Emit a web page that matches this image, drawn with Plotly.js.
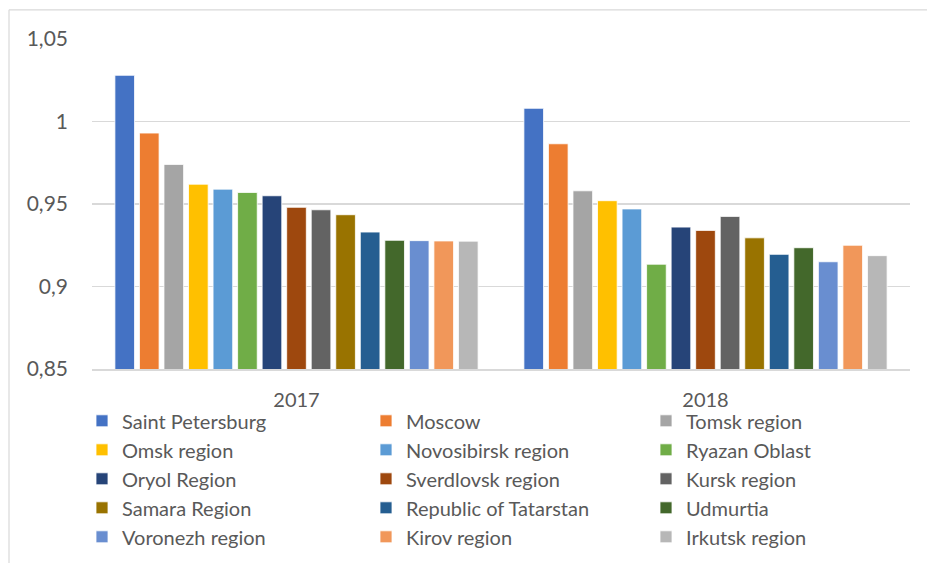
<!DOCTYPE html>
<html>
<head>
<meta charset="utf-8">
<script src="https://cdn.plot.ly/plotly-3.0.1.min.js"></script>
<style>html,body{margin:0;padding:0;background:#fff;}#chart{width:927px;height:563px;}</style>
</head>
<body>
<div id="chart"></div>
<script>
const years = ['2017', '2018'];
const regions = ['Saint Petersburg', 'Moscow', 'Tomsk region', 'Omsk region', 'Novosibirsk region', 'Ryazan Oblast',
  'Oryol Region', 'Sverdlovsk region', 'Kursk region', 'Samara Region', 'Republic of Tatarstan', 'Udmurtia',
  'Voronezh region', 'Kirov region', 'Irkutsk region'];
const values2017 = [1.028, 0.993, 0.974, 0.962, 0.959, 0.957, 0.955, 0.948, 0.9465, 0.9435, 0.933, 0.928, 0.9278, 0.9276, 0.9275];
const values2018 = [1.008, 0.9865, 0.958, 0.952, 0.947, 0.9135, 0.936, 0.934, 0.9425, 0.9295, 0.9195, 0.9235, 0.915, 0.925, 0.9187];
const colors = ['#4472C4', '#ED7D31', '#A5A5A5', '#FFC000', '#5B9BD5', '#70AD47', '#264478', '#9E480E', '#636363',
  '#997300', '#255E91', '#43682B', '#698ED0', '#F1975A', '#B7B7B7'];

const FONT = 'Lato, "Open Sans", sans-serif';
const legendIds = ['legend', 'legend2', 'legend3', 'legend4', 'legend5'];
const colWidths = [239, 235, 170];

const traces = regions.map((name, i) => ({
  type: 'bar',
  name: name,
  x: years,
  y: [values2017[i], values2018[i]],
  marker: { color: colors[i], line: { color: '#ffffff', width: 0.8 } },
  legend: legendIds[Math.floor(i / 3)],
  legendwidth: colWidths[i % 3],
  hoverinfo: 'name+y'
}));

const W = 927, H = 563;
const L = 92, R = W - 910, T = 38.7, B = H - 368.7;
const PW = W - L - R;
const PH = H - T - B;

function legendCfg(row) {
  const yPix = 421.5 + row * 29; // row centre in pixels
  return {
    orientation: 'h',
    x: (82 - L) / PW,
    xanchor: 'left',
    y: -(yPix - 20.5 - (T + PH)) / PH,
    yanchor: 'top',
    entrywidthmode: 'pixels',
    traceorder: 'normal',
    font: { family: FONT, size: 20, color: '#595959' },
    bgcolor: 'rgba(0,0,0,0)',
    itemwidth: 30
  };
}

const layout = {
  width: W, height: H,
  margin: { l: L, r: R, t: T, b: B, pad: 0, autoexpand: false },
  paper_bgcolor: '#ffffff', plot_bgcolor: '#ffffff',
  separators: ', ',
  barmode: 'group',
  bargap: 0.1,
  bargroupgap: 0.2,
  font: { family: FONT, color: '#595959' },
  xaxis: {
    type: 'category',
    showgrid: false,
    showline: true, linecolor: '#d9d9d9', linewidth: 1.5,
    ticks: '',
    tickfont: { family: FONT, size: 20, color: '#595959' },
    ticklabelstandoff: 12,
    fixedrange: true
  },
  yaxis: {
    range: [0.85, 1.05],
    dtick: 0.05, tick0: 0.85,
    showgrid: true, gridcolor: '#d9d9d9', gridwidth: 1.5,
    zeroline: false, showline: false,
    ticks: '',
    tickfont: { family: FONT, size: 21, color: '#595959' },
    ticklabelstandoff: 23,
    fixedrange: true
  },
  showlegend: true,
  shapes: [
    { type: 'line', xref: 'paper', yref: 'paper', x0: (9 - L) / PW, x1: (9 - L) / PW,
      y0: (T + PH - 9.5) / PH, y1: -(H - T - PH) / PH - 0.1,
      line: { color: '#d9d9d9', width: 1.2 } },
    { type: 'line', xref: 'paper', yref: 'paper', x0: (9 - L) / PW, x1: (W - L) / PW + 0.05,
      y0: (T + PH - 9.5) / PH, y1: (T + PH - 9.5) / PH,
      line: { color: '#d9d9d9', width: 1.2 } }
  ]
};
legendIds.forEach((id, r) => { layout[id] = legendCfg(r); });

Plotly.newPlot('chart', traces, layout, { displayModeBar: false, staticPlot: true });
</script>
</body>
</html>
